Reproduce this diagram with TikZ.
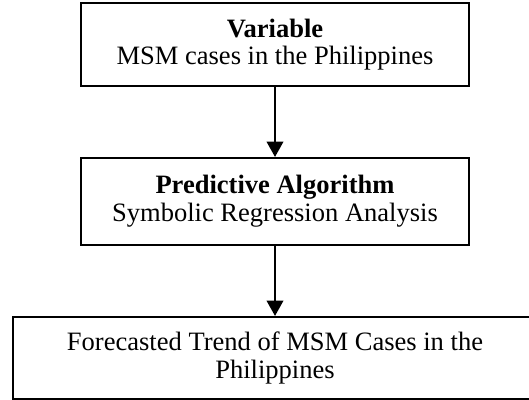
\documentclass[tikz,border=0pt]{standalone}
\usepackage{fontspec}
\setmainfont{Liberation Serif}
\usetikzlibrary{arrows.meta}
\begin{document}
\begin{tikzpicture}[x=0.75pt,y=-0.75pt,
  boxstyle/.style={draw=black, line width=1.6pt, inner sep=0pt, align=center,
    font=\fontsize{19.9}{20.8}\selectfont},
  flowarrow/.style={line width=1.3pt, -{Triangle[length=11.5pt,width=12.5pt]}}]
\clip (0,0) rectangle (529,400);
\fill[white] (0,0) rectangle (529,400);
\node[boxstyle, minimum width=291pt, minimum height=62.25pt] (var) at (275,44.5)
  {\textbf{Variable}\\MSM cases in the Philippines};
\node[boxstyle, minimum width=291pt, minimum height=65.25pt] (alg) at (275,201.5)
  {\textbf{Predictive Algorithm}\\Symbolic Regression Analysis};
\node[boxstyle, minimum width=393pt, minimum height=61.5pt] (out) at (275,358)
  {Forecasted Trend of MSM Cases in the\\Philippines};
\draw[flowarrow] (var.south) -- (alg.north);
\draw[flowarrow] (alg.south) -- (out.north);
\end{tikzpicture}
\end{document}
